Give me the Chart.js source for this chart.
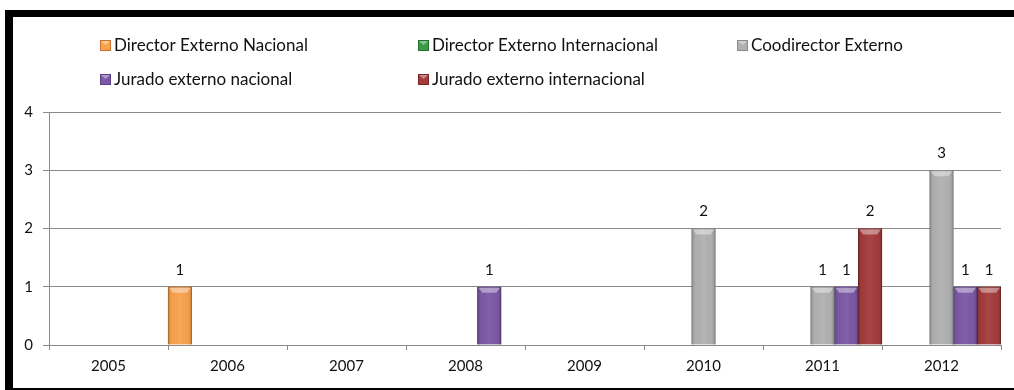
<!DOCTYPE html>
<html>
<head>
<meta charset="utf-8">
<script src="https://cdn.jsdelivr.net/npm/chart.js@4/dist/chart.umd.min.js"></script>
<style>
    html, body { margin: 0; background: #fff; overflow: hidden; }
    #frame {
        position: absolute;
        left: 5px;
        top: 10px;
        width: 1001px;
        height: 371px;
        border-top: 7px solid #000;
        border-left: 8px solid #000;
        border-bottom: 2px solid #000;
        background: #fff;
    }
    canvas { display: block; }
</style>
</head>
<body>
<div id="frame"><canvas id="chart" width="1001" height="371"></canvas></div>
<script>
// Data
const years = ['2005', '2006', '2007', '2008', '2009', '2010', '2011', '2012'];
const directorNacional = [null, 1, null, null, null, null, null, null];
const directorInternacional = [null, null, null, null, null, null, null, null];
const coodirector = [null, null, null, null, null, 2, 1, 3];
const juradoNacional = [null, null, null, 1, null, null, 1, 1];
const juradoInternacional = [null, null, null, null, null, null, 2, 1];
const yTicks = [0, 1, 2, 3, 4];

const FONT = 'Lato, "Open Sans", sans-serif';

function makeSet(label, data, fill, border) {
    return {
        label: label,
        data: data,
        backgroundColor: fill,
        borderColor: border,
        borderWidth: 1,
        barPercentage: 1,
        categoryPercentage: 1
    };
}

// bevel look on each bar
const bevelPlugin = {
    id: 'bevel',
    afterDatasetsDraw(chart) {
        const ctx = chart.ctx;
        chart.data.datasets.forEach((ds, i) => {
            const meta = chart.getDatasetMeta(i);
            meta.data.forEach((bar, j) => {
                if (ds.data[j] == null) return;
                const w = bar.width, l = bar.x - w / 2, r = bar.x + w / 2;
                const top = bar.y, bottom = bar.base;
                ctx.save();
                let g = ctx.createLinearGradient(l, 0, r, 0);
                g.addColorStop(0, 'rgba(0,0,0,0.2)');
                g.addColorStop(0.15, 'rgba(0,0,0,0.02)');
                g.addColorStop(0.5, 'rgba(255,255,255,0.05)');
                g.addColorStop(0.85, 'rgba(0,0,0,0.02)');
                g.addColorStop(1, 'rgba(0,0,0,0.2)');
                ctx.fillStyle = g;
                ctx.fillRect(l, top, w, bottom - top);
                ctx.beginPath();
                ctx.moveTo(l + 1, top + 1);
                ctx.lineTo(r - 1, top + 1);
                ctx.lineTo(r - 5, top + 6);
                ctx.lineTo(l + 5, top + 6);
                ctx.closePath();
                ctx.fillStyle = 'rgba(255,255,255,0.4)';
                ctx.fill();
                ctx.restore();
            });
        });
    }
};

// values above the bars
const valueLabels = {
    id: 'valueLabels',
    afterDatasetsDraw(chart) {
        const ctx = chart.ctx;
        ctx.save();
        ctx.font = '15px ' + FONT;
        ctx.fillStyle = '#111';
        ctx.textAlign = 'center';
        ctx.textBaseline = 'middle';
        chart.data.datasets.forEach((ds, i) => {
            chart.getDatasetMeta(i).data.forEach((bar, j) => {
                if (ds.data[j] == null) return;
                ctx.fillText(String(ds.data[j]), bar.x, bar.y - 17);
            });
        });
        ctx.restore();
    }
};

// legend laid out in fixed columns like the original
const gridLegend = {
    id: 'gridLegend',
    afterDraw(chart) {
        const ctx = chart.ctx;
        const cols = [87, 405, 724];
        const rows = [28, 62];
        ctx.save();
        ctx.font = '17px ' + FONT;
        ctx.textBaseline = 'middle';
        chart.data.datasets.forEach((ds, i) => {
            const x = cols[i % 3], y = rows[Math.floor(i / 3)];
            ctx.fillStyle = ds.backgroundColor;
            ctx.fillRect(x, y - 5, 11, 11);
            ctx.strokeStyle = ds.borderColor;
            ctx.lineWidth = 1;
            ctx.strokeRect(x + 0.5, y - 4.5, 10, 10);
            ctx.fillStyle = 'rgba(255,255,255,0.4)';
            ctx.beginPath();
            ctx.moveTo(x + 1, y - 4);
            ctx.lineTo(x + 10, y - 4);
            ctx.lineTo(x + 5.5, y);
            ctx.closePath();
            ctx.fill();
            ctx.fillStyle = '#111';
            ctx.fillText(ds.label, x + 14, y + 1);
        });
        ctx.restore();
    }
};

const ctx = document.getElementById('chart').getContext('2d');
new Chart(ctx, {
    type: 'bar',
    data: {
        labels: years,
        datasets: [
            makeSet('Director Externo Nacional', directorNacional, '#f9a24f', '#c8702c'),
            makeSet('Director Externo Internacional', directorInternacional, '#3a9d45', '#23702c'),
            makeSet('Coodirector Externo', coodirector, '#b1b1b1', '#8a8a8a'),
            makeSet('Jurado externo nacional', juradoNacional, '#7c59a6', '#5b3e84'),
            makeSet('Jurado externo internacional', juradoInternacional, '#a43c3c', '#782626')
        ]
    },
    options: {
        responsive: false,
        animation: false,
        layout: { padding: { top: 95, right: 13, left: 0, bottom: 0 } },
        plugins: {
            legend: { display: false },
            tooltip: { enabled: false }
        },
        scales: {
            x: {
                afterFit: s => { s.height = 43; },
                grid: {
                    offset: true,
                    drawOnChartArea: false,
                    tickLength: 5,
                    color: '#8a8a8a'
                },
                border: { color: '#8a8a8a' },
                ticks: {
                    color: '#111',
                    padding: 7,
                    font: { family: FONT, size: 15 }
                }
            },
            y: {
                min: 0,
                max: 4,
                afterFit: s => { s.width = 36; },
                afterBuildTicks: s => { s.ticks = yTicks.map(v => ({ value: v })); },
                grid: { color: '#8a8a8a', tickLength: 6 },
                border: { color: '#8a8a8a' },
                ticks: {
                    color: '#111',
                    padding: 10,
                    font: { family: FONT, size: 15 }
                }
            }
        }
    },
    plugins: [bevelPlugin, valueLabels, gridLegend]
});
</script>
</body>
</html>
